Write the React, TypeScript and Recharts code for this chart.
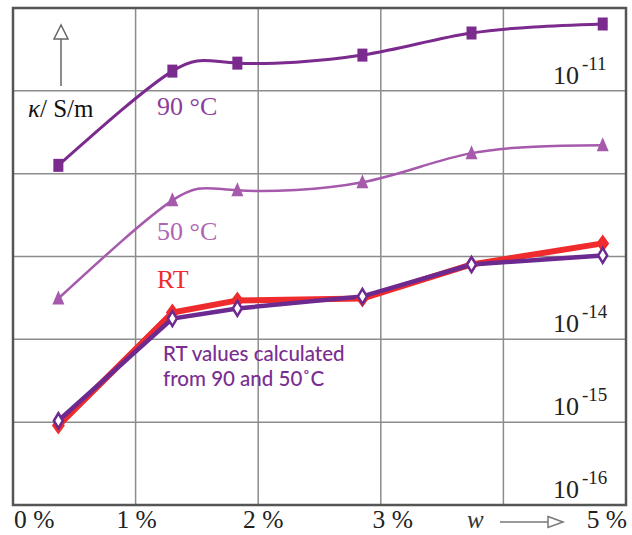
import React from 'react';
import { LineChart, Line, XAxis, YAxis, CartesianGrid } from 'recharts';

// mass fraction w (%)
const wContent = [0.37, 1.3, 1.83, 2.85, 3.74, 4.81];
// conductivity kappa in S/m
const kappa90 = [1.26e-12, 1.73e-11, 2.16e-11, 2.7e-11, 4.99e-11, 6.41e-11];
const kappa50 = [3.11e-14, 4.76e-13, 6.3e-13, 7.87e-13, 1.77e-12, 2.2e-12];
const kappaRT = [9.1e-16, 2.11e-14, 2.95e-14, 3.11e-14, 8.03e-14, 1.44e-13];
const kappaCalc = [1.04e-15, 1.78e-14, 2.36e-14, 3.3e-14, 8.0e-14, 1.03e-13];

const xTicks = [0, 1, 2, 3, 4, 5];
const xTickLabels = ['0 %', '1 %', '2 %', '3 %', 'w', '5 %'];
const yTicks = [1e-16, 1e-15, 1e-14, 1e-13, 1e-12, 1e-11, 1e-10];
const yTickExponents = ['-16', '-15', '-14', '', '', '-11', ''];

const data = wContent.map((w, i) => ({
  w,
  k90: kappa90[i],
  k50: kappa50[i],
  kRT: kappaRT[i],
  kCalc: kappaCalc[i],
}));

const C90 = '#7b2a8e';
const C50 = '#a55aab';
const CRT = '#ef2b2d';
const CCALC = '#6c2a90';
const SERIF = '"Liberation Serif", "DejaVu Serif", serif';

const SquareDot = (p: any) => {
  const { cx, cy } = p;
  if (cx == null || cy == null) return null;
  return <rect x={cx - 5} y={cy - 6.5} width={10} height={13} fill={C90} />;
};
const TriDot = (p: any) => {
  const { cx, cy } = p;
  if (cx == null || cy == null) return null;
  return <polygon points={`${cx},${cy - 8} ${cx - 6},${cy + 6} ${cx + 6},${cy + 6}`} fill={C50} />;
};
const RedDot = (p: any) => {
  const { cx, cy } = p;
  if (cx == null || cy == null) return null;
  return <polygon points={`${cx},${cy - 9} ${cx + 6.5},${cy} ${cx},${cy + 9} ${cx - 6.5},${cy}`} fill={CRT} />;
};
const CalcDot = (p: any) => {
  const { cx, cy } = p;
  if (cx == null || cy == null) return null;
  return (
    <polygon
      points={`${cx},${cy - 7.5} ${cx + 4.5},${cy} ${cx},${cy + 7.5} ${cx - 4.5},${cy}`}
      fill="#ffffff"
      stroke={CCALC}
      strokeWidth={2.5}
    />
  );
};

const XTick = (p: any) => {
  const { x, payload } = p;
  const v = payload.value;
  const idx = xTicks.indexOf(v);
  const label = xTickLabels[idx];
  const base = 528;
  if (v === 4) {
    return (
      <g>
        <text x={467} y={base} fontFamily={SERIF} fontStyle="italic" fontSize={25} fill="#333">
          {label}
        </text>
        <line x1={500} y1={522} x2={548} y2={522} stroke="#777" strokeWidth={1.5} />
        <polygon points="548,516.5 563,522 548,527.5" fill="#fff" stroke="#777" strokeWidth={1.5} />
      </g>
    );
  }
  let anchor: 'start' | 'middle' | 'end' = 'middle';
  let tx = x;
  if (v === 0) { anchor = 'start'; tx = x + 1; }
  else if (v === 5) { anchor = 'end'; tx = x + 1; }
  else if (v === 1) { tx = x + 1; }
  else if (v === 2) { tx = x + 5; }
  else if (v === 3) { tx = x + 12; }
  return (
    <text x={tx} y={base} textAnchor={anchor} fontFamily={SERIF} fontSize={25.5} fill="#222">
      {label}
    </text>
  );
};

const YTick = (p: any) => {
  const { y, payload } = p;
  const idx = yTicks.findIndex((t) => Math.abs(Math.log10(t) - Math.log10(payload.value)) < 1e-6);
  const exp = idx >= 0 ? yTickExponents[idx] : '';
  if (!exp) return <g />;
  return (
    <text x={553} y={y - 7} fontFamily={SERIF} fontSize={26} fill="#222">
      <tspan>10</tspan>
      <tspan dx={3} dy={-14} fontSize={19}>{exp}</tspan>
    </text>
  );
};

export default function App() {
  return (
    <div style={{ position: 'absolute', left: 0, top: 0, width: 632, height: 535, background: '#fff' }}>
      <LineChart
        width={632}
        height={535}
        data={data}
        margin={{ top: 8, right: 6, left: 13, bottom: 0 }}
      >
        <CartesianGrid stroke="#8c8c8c" strokeWidth={1.5} />
        <XAxis
          dataKey="w"
          type="number"
          domain={[0, 5]}
          ticks={xTicks}
          height={30}
          axisLine={false}
          tickLine={false}
          tick={<XTick />}
          interval={0}
          allowDataOverflow
        />
        <YAxis
          scale="log"
          type="number"
          domain={[1e-16, 1e-10]}
          ticks={yTicks}
          orientation="right"
          mirror
          width={60}
          axisLine={false}
          tickLine={false}
          tick={<YTick />}
          interval={0}
          allowDataOverflow
        />
        <Line
          dataKey="k90"
          type="natural"
          stroke={C90}
          strokeWidth={3}
          dot={<SquareDot />}
          isAnimationActive={false}
        />
        <Line
          dataKey="k50"
          type="natural"
          stroke={C50}
          strokeWidth={2.5}
          dot={<TriDot />}
          isAnimationActive={false}
        />
        <Line
          dataKey="kRT"
          type="linear"
          stroke={CRT}
          strokeWidth={6}
          dot={<RedDot />}
          isAnimationActive={false}
        />
        <Line
          dataKey="kCalc"
          type="linear"
          stroke={CCALC}
          strokeWidth={4.5}
          dot={<CalcDot />}
          isAnimationActive={false}
        />
      </LineChart>
      <svg
        width={632}
        height={535}
        style={{ position: 'absolute', left: 0, top: 0, pointerEvents: 'none' }}
      >
        <rect x={13} y={8} width={613} height={497} fill="none" stroke="#555" strokeWidth={2.5} />
        <line x1={61} y1={39} x2={61} y2={86} stroke="#666" strokeWidth={1.5} />
        <polygon points="61,25 54,39 68,39" fill="#fff" stroke="#666" strokeWidth={1.5} />
        <text x={28} y={117} fontFamily={SERIF} fontSize={25} fill="#111">
          <tspan fontStyle="italic">κ</tspan>
          <tspan>/ S/m</tspan>
        </text>
        <text x={157} y={115} fontFamily={SERIF} fontSize={26} fill="#8b3d9c">90 °C</text>
        <text x={157} y={240} fontFamily={SERIF} fontSize={26} fill="#b064b3">50 °C</text>
        <text x={157} y={288} fontFamily={SERIF} fontSize={26} fill={CRT}>RT</text>
        <text x={163} y={361} fontFamily="Lato, 'Open Sans', sans-serif" fontSize={20.5} fontWeight={500} fill="#7a2e92">
          RT values calculated
        </text>
        <text x={163} y={386} fontFamily="Lato, 'Open Sans', sans-serif" fontSize={20.5} fontWeight={500} fill="#7a2e92">
          from 90 and 50˚C
        </text>
      </svg>
    </div>
  );
}
